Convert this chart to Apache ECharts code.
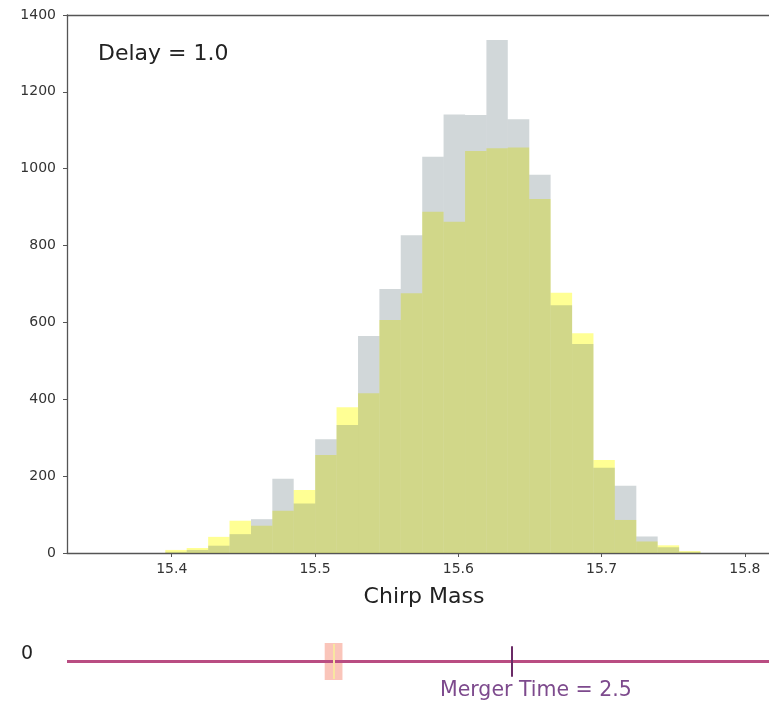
<!DOCTYPE html>
<html>
<head>
<meta charset="utf-8">
<script src="https://cdn.jsdelivr.net/npm/echarts@6/dist/echarts.min.js"></script>
<style>html,body{margin:0;padding:0;background:#fff}#c{width:769px;height:706px}</style>
</head>
<body>
<div id="c"></div>
<script>
// Histogram bin edges (Chirp Mass)
const binEdges = [15.3955,15.4104,15.4254,15.4403,15.4553,15.4702,15.4851,15.5001,15.5150,15.5300,
  15.5449,15.5598,15.5748,15.5897,15.6047,15.6196,15.6345,15.6495,15.6644,15.6794,
  15.6943,15.7092,15.7242,15.7391,15.7541,15.7690];
// Counts per bin
const greyCounts   = [3, 8, 19, 49, 88, 193, 129, 296, 333, 565, 687, 827, 1031, 1141, 1140, 1335, 1129, 984, 645, 544, 222, 175, 43, 15, 3];
const yellowCounts = [8, 13, 42, 84, 71, 110, 164, 255, 379, 416, 606, 676, 888, 862, 1046, 1053, 1055, 921, 677, 572, 242, 86, 30, 20, 5];
const xTicks = [15.4, 15.5, 15.6, 15.7, 15.8];
const yTicks = [0, 200, 400, 600, 800, 1000, 1200, 1400];
// Slider values
const sliderMin = 0, sliderMax = 3.95;
const handleValue = 1.5, handleHalfWidth = 0.05;
const mergerTime = 2.5;
const delayText = 'Delay = 1.0';
const sliderLabel = '0';

const FONT = 'DejaVu Sans';

function toRows(counts){
  return counts.map((c,i)=>[binEdges[i], binEdges[i+1], c]);
}
function histSeries(name, counts, color){
  return {
    type:'custom', name, xAxisIndex:0, yAxisIndex:0, clip:true,
    encode:{x:[0,1], y:2},
    data: toRows(counts),
    renderItem(params, api){
      const p0 = api.coord([api.value(0), api.value(2)]);
      const p1 = api.coord([api.value(1), 0]);
      return {type:'rect', shape:{x:p0[0], y:p0[1], width:p1[0]-p0[0], height:p1[1]-p0[1]},
        style:{fill:color}};
    }
  };
}

const chart = echarts.init(document.getElementById('c'), null, {renderer:'canvas'});
const xMin = 15.3269, xMax = 15.8168;
chart.setOption({
  animation:false,
  backgroundColor:'#fff',
  textStyle:{fontFamily:FONT},
  title:{text:delayText, left:93, top:38, textStyle:{fontFamily:FONT, fontSize:22, fontWeight:'normal', color:'#222'}},
  grid:[
    {left:67, top:15, right:0, height:538},
    {left:67, top:643, right:0, height:37}
  ],
  xAxis:[
    {type:'value', gridIndex:0, min:xMin, max:xMax, position:'bottom',
     name:'Chirp Mass', nameLocation:'middle', nameGap:33,
     nameTextStyle:{fontFamily:FONT, fontSize:22, color:'#222', padding:[0,0,0,12]},
     axisLine:{show:true, onZero:false, lineStyle:{color:'#555', width:1.3}},
     axisTick:{show:true, inside:false, length:4, customValues:xTicks, lineStyle:{color:'#555'}},
     axisLabel:{show:true, margin:9, customValues:xTicks, formatter:v=>Number(v).toFixed(1), fontFamily:FONT, fontSize:14, color:'#333'},
     splitLine:{show:false}},
    {type:'value', gridIndex:0, min:xMin, max:xMax, position:'top',
     axisLine:{show:true, onZero:false, lineStyle:{color:'#555', width:1.3}},
     axisTick:{show:false}, axisLabel:{show:false}, splitLine:{show:false}},
    {type:'value', gridIndex:1, min:sliderMin, max:sliderMax, show:false}
  ],
  yAxis:[
    {type:'value', gridIndex:0, min:0, max:1400, interval:200,
     axisLine:{show:true, onZero:false, lineStyle:{color:'#555', width:1.3}},
     axisTick:{show:true, inside:false, length:4, lineStyle:{color:'#555'}},
     axisLabel:{show:true, margin:11, fontFamily:FONT, fontSize:14, color:'#333',
       formatter:v=> yTicks.includes(v) ? String(v) : ''},
     splitLine:{show:false}},
    {type:'value', gridIndex:1, min:-1, max:1, show:false}
  ],
  series:[
    histSeries('yellow', yellowCounts, 'rgba(255,255,0,0.42)'),
    histSeries('grey', greyCounts, 'rgba(70,95,105,0.25)'),
    {
      type:'line', xAxisIndex:2, yAxisIndex:1, symbol:'none', silent:true,
      data:[[sliderMin,0],[sliderMax,0]],
      lineStyle:{color:'#b94d82', width:3},
      markArea:{silent:true, itemStyle:{color:'rgba(245,150,130,0.55)'},
        data:[[{coord:[handleValue-handleHalfWidth,-1]},{coord:[handleValue+handleHalfWidth,1]}]]},
      markLine:{silent:true, symbol:'none', animation:false,
        data:[
          [{coord:[handleValue,-0.95], lineStyle:{color:'#f8e6a0', width:2, type:'solid'}, label:{show:false}},
           {coord:[handleValue,0.95]}],
          [{coord:[mergerTime,-0.82], lineStyle:{color:'#6a2a66', width:2, type:'solid'},
            label:{show:false}},
           {coord:[mergerTime,0.82]}]
        ]}
    }
  ],
  graphic:[
    {type:'text', left:21, top:645, style:{text:sliderLabel, fontFamily:FONT, fontSize:19, fill:'#222'}},
    {type:'text', left:440, top:680, style:{text:'Merger Time = ' + mergerTime.toFixed(1), fontFamily:FONT, fontSize:20.5, fill:'#7d4a8d'}}
  ]
});
</script>
</body>
</html>
